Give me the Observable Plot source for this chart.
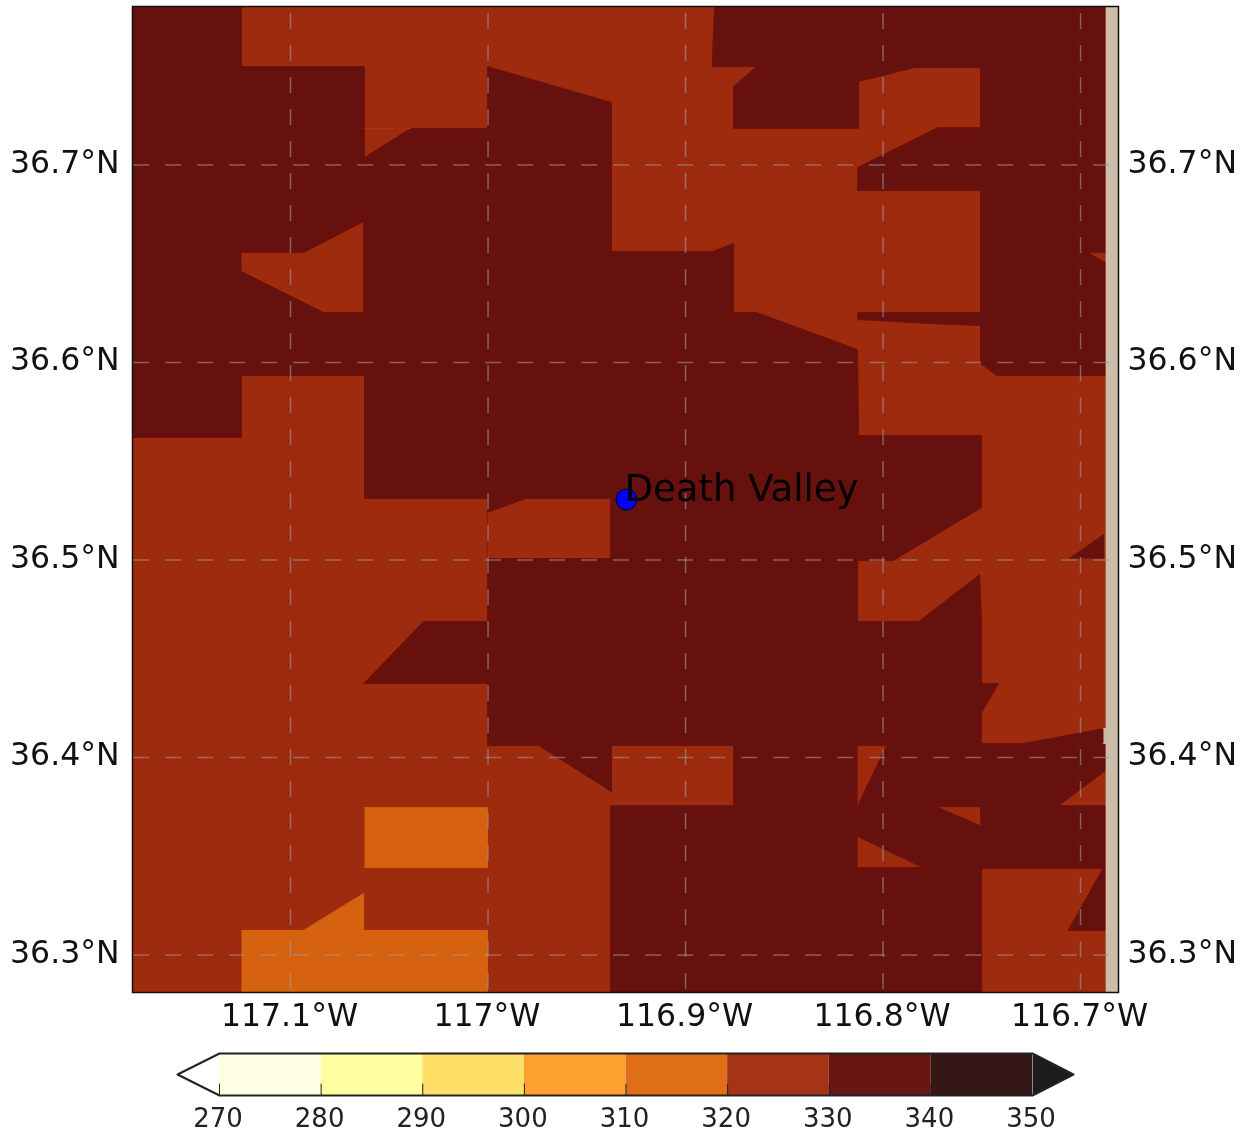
<!DOCTYPE html>
<html>
<head>
<meta charset="utf-8">
<script src="https://cdn.jsdelivr.net/npm/d3@7"></script>
<script src="https://cdn.jsdelivr.net/npm/@observablehq/plot@0.6"></script>
<style>
  html, body { margin: 0; padding: 0; background: #fff; }
  svg { display: block; filter: blur(0.45px); }
</style>
</head>
<body>
<div id="chart"></div>
<script>
// Axis values
const lonDomain = [-117.1805, -116.6813];
const latDomain = [36.2813, 36.7805];
const lonTicks = [-117.1, -117, -116.9, -116.8, -116.7];
const latTicks = [36.3, 36.4, 36.5, 36.6, 36.7];

// Colour bar
const levels = [270, 280, 290, 300, 310, 320, 330, 340, 350];
const levelColors = ["#fffde3", "#fffea0", "#fedf68", "#fea02e", "#e06d18", "#a63315", "#671612", "#351716"];
const underColor = "#ffffff";
const overColor = "#1c1c1c";
const underTip = 265.87;
const overTip = 354.03;

// Map colours
const brown = "#9e2b0e";
const dark = "#67110e";
const darkEdge = "#701209";
const orange = "#d6620f";
const tan = "#cdbca8";
const seam = "#ad3310";

// Contour regions: [lon, lat] vertices
const domainBox = [[-117.1805, 36.2813], [-117.1805, 36.7805], [-116.6813, 36.7805], [-116.6813, 36.2813]];
const darkMain = [[-117.1805,36.7805],[-117.1253,36.7805],[-117.1253,36.7501],[-117.0630,36.7501],[-117.0630,36.7041],[-117.0397,36.7187],[-117.0008,36.7187],[-117.0008,36.7501],[-116.9380,36.7319],[-116.9380,36.6565],[-116.8868,36.6565],[-116.8762,36.6605],[-116.8762,36.6256],[-116.8646,36.6256],[-116.8134,36.6068],[-116.8129,36.5633],[-116.7506,36.5633],[-116.7506,36.5268],[-116.7952,36.5000],[-116.8134,36.5000],[-116.8134,36.4691],[-116.7825,36.4691],[-116.7516,36.4929],[-116.7506,36.4691],[-116.7506,36.4377],[-116.7420,36.4377],[-116.7506,36.4230],[-116.7506,36.4073],[-116.7299,36.4073],[-116.6889,36.4149],[-116.6889,36.4073],[-116.6878,36.4073],[-116.6878,36.3937],[-116.7116,36.3759],[-116.6878,36.3759],[-116.6878,36.3441],[-116.7506,36.3441],[-116.7506,36.2813],[-116.9385,36.2813],[-116.9385,36.3759],[-116.8762,36.3759],[-116.8762,36.4063],[-116.9380,36.4063],[-116.9380,36.3830],[-116.9749,36.4063],[-117.0008,36.4063],[-117.0008,36.4377],[-117.0635,36.4377],[-117.0332,36.4691],[-117.0008,36.4691],[-117.0008,36.5314],[-117.0630,36.5314],[-117.0630,36.5937],[-117.1253,36.5937],[-117.1253,36.5623],[-117.1805,36.5623]];
const darkNorthEast = [[-116.8858,36.7805],[-116.8868,36.7582],[-116.8868,36.7501],[-116.8646,36.7501],[-116.8762,36.7400],[-116.8762,36.7187],[-116.8129,36.7187],[-116.8129,36.7425],[-116.7846,36.7496],[-116.7511,36.7496],[-116.7511,36.7192],[-116.7729,36.7192],[-116.8134,36.6990],[-116.8134,36.6873],[-116.7511,36.6873],[-116.7511,36.6256],[-116.8134,36.6256],[-116.8134,36.6220],[-116.7775,36.6200],[-116.7511,36.6190],[-116.7511,36.5997],[-116.7430,36.5937],[-116.6878,36.5937],[-116.6878,36.6509],[-116.6970,36.6559],[-116.6878,36.6559],[-116.6878,36.7805]];
const darkEastWedge = [[-116.7061,36.5010],[-116.6889,36.5132],[-116.6889,36.5010]];
const darkSouthEastWedge = [[-116.6894,36.3441],[-116.6878,36.3441],[-116.6878,36.3127],[-116.7071,36.3127]];
const brownWest = [[-117.1253,36.6559],[-117.0939,36.6559],[-117.0635,36.6716],[-117.0635,36.6256],[-117.0838,36.6256],[-117.1253,36.6463]];
const brownIsland = [[-117.0008,36.5243],[-116.9815,36.5314],[-116.9385,36.5314],[-116.9385,36.5010],[-117.0008,36.5010]];
const brownNotchA = [[-116.8134,36.4063],[-116.7987,36.4063],[-116.8134,36.3759]];
const brownNotchB = [[-116.7729,36.3754],[-116.7511,36.3754],[-116.7511,36.3658]];
const brownNotchC = [[-116.8134,36.3603],[-116.7805,36.3446],[-116.8134,36.3446]];
const orangeBlock = [[-117.0630,36.3749],[-117.0008,36.3749],[-117.0008,36.3446],[-117.0630,36.3446]];
const orangeSouth = [[-117.1253,36.3127],[-117.0939,36.3127],[-117.0635,36.3314],[-117.0635,36.3127],[-117.0008,36.3127],[-117.0008,36.2813],[-117.1253,36.2813]];
const noDataStrip = [[-116.6878,36.7805],[-116.6813,36.7805],[-116.6813,36.2813],[-116.6878,36.2813]];
const noDataNotch = [[-116.6889,36.4149],[-116.6878,36.4149],[-116.6878,36.4073],[-116.6889,36.4073]];
const brownSeam = [[-117.0630,36.7187],[-117.0397,36.7187]];

// Labelled station
const stations = [{name: "Death Valley", lon: -116.9304, lat: 36.5309}];

const lonX = d => d[0];
const latY = d => d[1];
const region = (points, color, edge = color) => Plot.line(points, {x: lonX, y: latY, fill: color, stroke: edge, strokeWidth: 1});

const gridStroke = "#9a9a9a";
const map = Plot.plot({
  width: 1240,
  height: 1042,
  marginLeft: 132,
  marginRight: 122,
  marginTop: 6,
  marginBottom: 50,
  x: {domain: lonDomain},
  y: {domain: latDomain},
  style: {fontFamily: "DejaVu Sans", fontSize: "31.5px", color: "#111", background: "#fff"},
  marks: [
    region(domainBox, brown),
    region(darkMain, dark, darkEdge),
    region(darkNorthEast, dark, darkEdge),
    region(darkEastWedge, dark, darkEdge),
    region(darkSouthEastWedge, dark, darkEdge),
    region(brownWest, brown, darkEdge),
    region(brownIsland, brown, darkEdge),
    region(brownNotchA, brown, darkEdge),
    region(brownNotchB, brown, darkEdge),
    region(brownNotchC, brown, darkEdge),
    Plot.line(brownSeam, {x: lonX, y: latY, stroke: seam, strokeWidth: 1}),
    region(orangeBlock, orange),
    region(orangeSouth, orange),
    region(noDataStrip, tan),
    region(noDataNotch, tan),
    Plot.ruleX(lonTicks, {stroke: gridStroke, strokeOpacity: 0.6, strokeWidth: 1.5, strokeDasharray: "16,16", strokeDashoffset: 25, dx: -1}),
    Plot.ruleY(latTicks, {stroke: gridStroke, strokeOpacity: 0.6, strokeWidth: 1.5, strokeDasharray: "16,16", strokeDashoffset: 31, dy: -0.5}),
    Plot.frame({stroke: "#111", strokeWidth: 1.5}),
    Plot.dot(stations, {x: "lon", y: "lat", r: 10.5, fill: "#0000ff", stroke: "#000", strokeWidth: 1}),
    Plot.text(stations, {x: "lon", y: "lat", text: "name", textAnchor: "start", lineAnchor: "bottom", dx: -2, dy: 1, fontSize: 37, fill: "#000"}),
    Plot.axisX(lonTicks, {anchor: "bottom", tickSize: 0, tickPadding: 11, dx: -2, label: null, tickFormat: d => `${Math.abs(d)}°W`}),
    Plot.axisY(latTicks, {anchor: "left", tickSize: 0, tickPadding: 13, dy: -3, label: null, tickFormat: d => `${d}°N`}),
    Plot.axisY(latTicks, {anchor: "right", tickSize: 0, tickPadding: 9, dy: -3, label: null, tickFormat: d => `${d}°N`})
  ]
});

const bands = levelColors.map((color, i) => ({lo: levels[i], hi: levels[i + 1], color}));
const underArrow = [[270, 0], [underTip, 0.5], [270, 1]];
const overArrow = [[350, 0], [overTip, 0.5], [350, 1]];
const barOutline = [[270, 0], [underTip, 0.5], [270, 1], [350, 1], [overTip, 0.5], [350, 0], [270, 0]];

const bar = Plot.plot({
  width: 1240,
  height: 90,
  marginLeft: 219,
  marginRight: 208,
  marginTop: 11,
  marginBottom: 37,
  x: {domain: [270, 350]},
  y: {domain: [0, 1], axis: null},
  style: {fontFamily: "DejaVu Sans", fontSize: "26px", color: "#222", background: "#fff"},
  marks: [
    Plot.line(underArrow, {x: lonX, y: latY, fill: underColor, stroke: "none"}),
    Plot.line(overArrow, {x: lonX, y: latY, fill: overColor, stroke: "none"}),
    Plot.rect(bands, {x1: "lo", x2: "hi", y1: 0, y2: 1, fill: "color", inset: 0}),
    Plot.ruleX(levels.slice(0, -1), {y1: 0, y2: 0.27, stroke: "#222", strokeWidth: 1}),
    Plot.line(barOutline, {x: lonX, y: latY, stroke: "#222", strokeWidth: 2}),
    Plot.axisX(levels, {anchor: "bottom", tickSize: 0, tickPadding: 13, dx: -1.5, label: null})
  ]
});

document.getElementById("chart").append(map, bar);
</script>
</body>
</html>
